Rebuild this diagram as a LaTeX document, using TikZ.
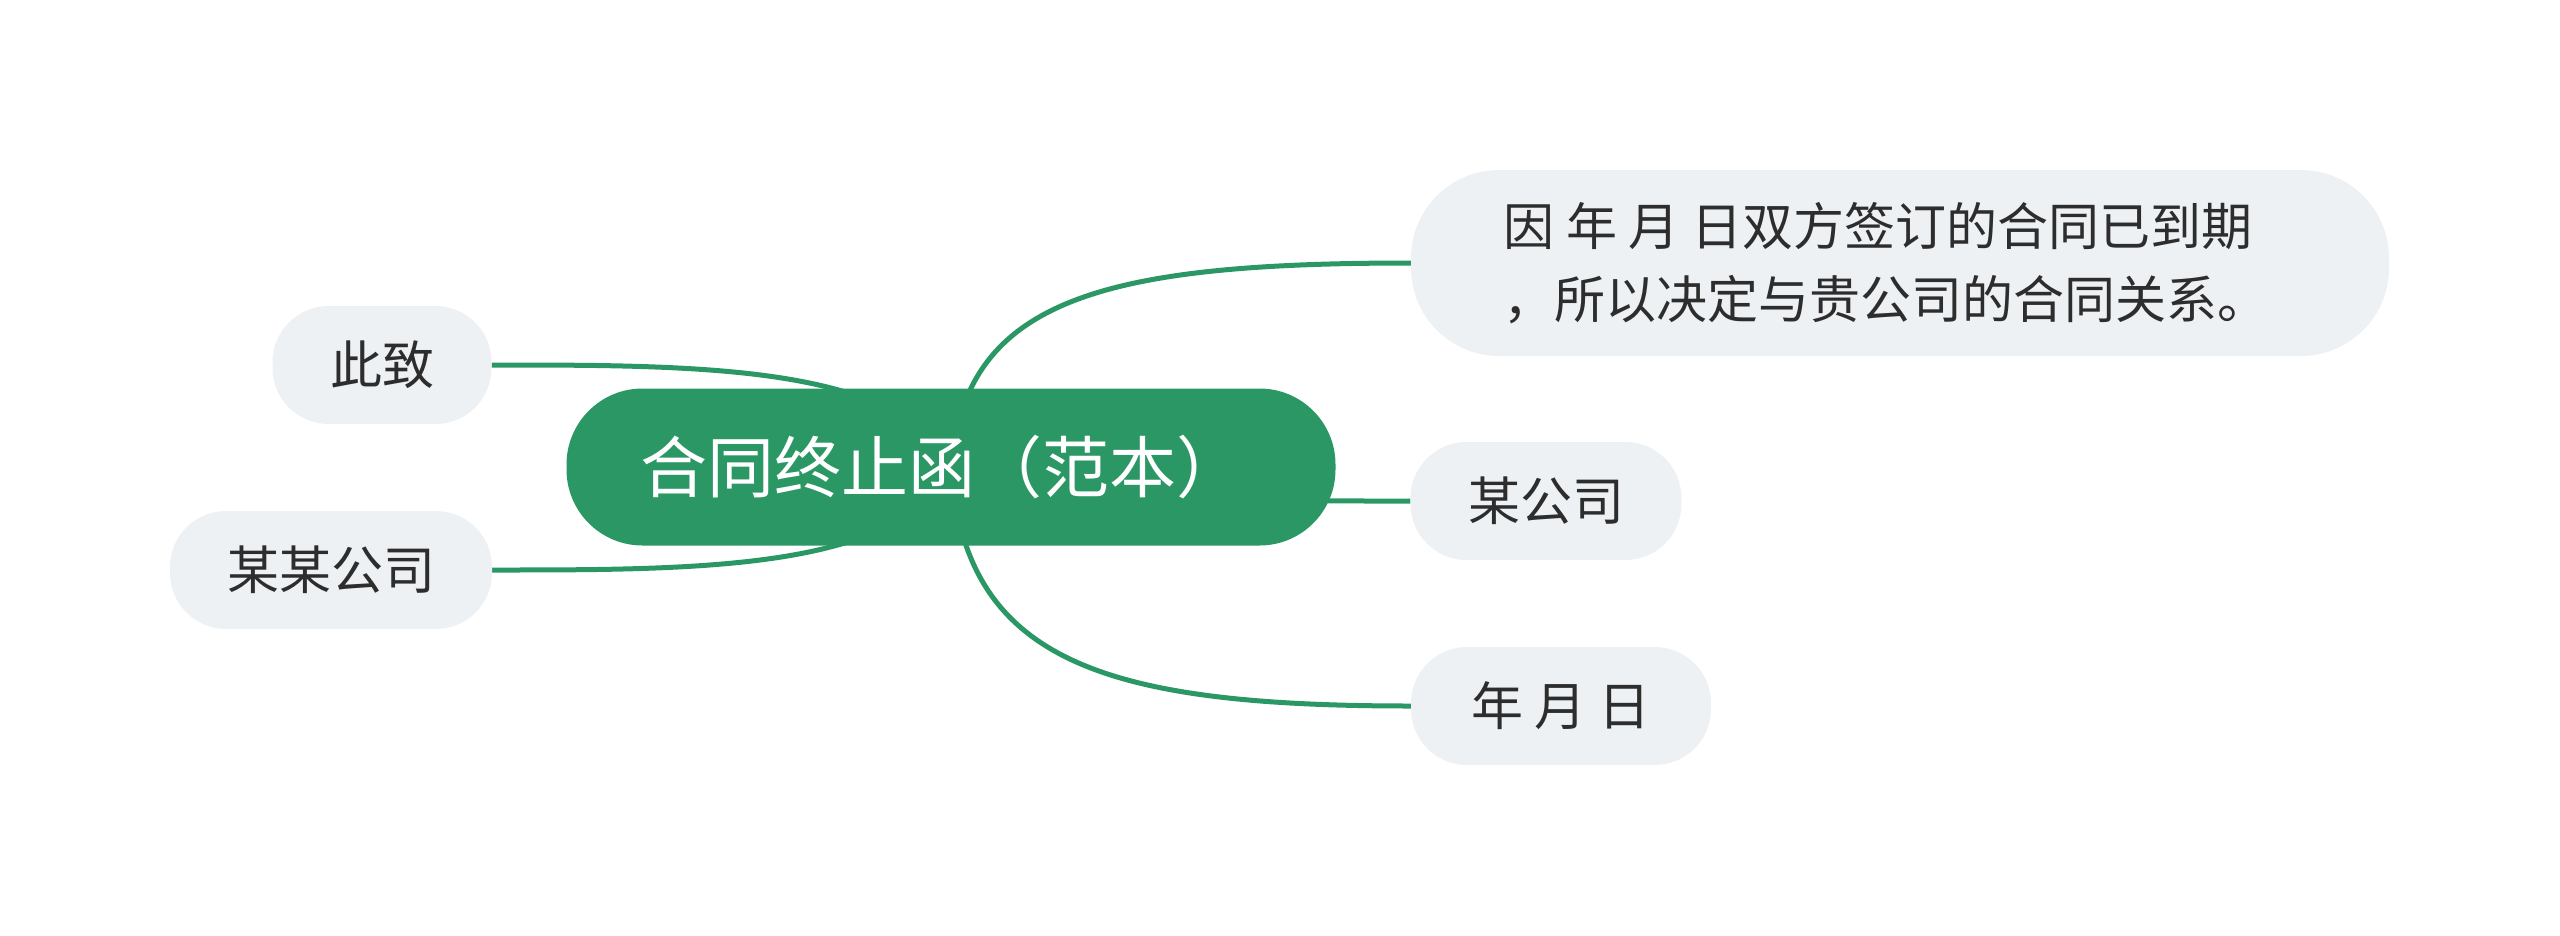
\documentclass[tikz,border=0pt]{standalone}
\usepackage{fontspec}
\newfontfamily\cjk{Noto Sans CJK SC}
\usetikzlibrary{backgrounds}
\definecolor{mapgreen}{RGB}{42,151,101}
\definecolor{topicgray}{RGB}{238,241,244}
\definecolor{topictext}{RGB}{45,45,45}

\begin{document}
\begin{tikzpicture}[x=1pt,y=-1pt,
		root/.style={fill=mapgreen, text=white, rounded corners=76pt, minimum width=769pt, minimum height=157pt, inner sep=0pt, font=\cjk\fontsize{67}{80}\selectfont},
		topic/.style={fill=topicgray, text=topictext, rounded corners=56pt, minimum height=118pt, inner sep=0pt, font=\cjk\fontsize{52}{62}\selectfont},
		link/.style={draw=mapgreen, line width=5pt}]
			\useasboundingbox (0,0) rectangle (2560,935);

			% central topic
			\node[root] (root) at (951,467) {合同终止函（范本）\hspace*{18pt}};

			% right side
			\node[topic, minimum width=978pt, minimum height=186pt, rounded corners=88pt, align=left, font=\cjk\fontsize{51}{73}\selectfont] (expiry) at (1900,263) {因 年 月 日双方签订的合同已到期\hspace*{44pt}\\，所以决定与贵公司的合同关系。};
			\node[topic, minimum width=271pt] (company) at (1546,501) {某公司};
			\node[topic, minimum width=300pt] (date) at (1561,706) {年 月 日};

			% left side
			\node[topic, minimum width=219pt] (regards) at (382,365) {此致};
			\node[topic, minimum width=322pt] (sender) at (331,570) {某某公司};

			% links
			\begin{pgfonlayer}{background}
			\draw[link] (root.center) .. controls +(14,-167) and +(-311,0) .. (expiry.west);
			\draw[link] (root.center) .. controls +(60,34) and +(-250,0) .. (company.west);
			\draw[link] (root.center) .. controls +(14,193) and +(-311,0) .. (date.west);
			\draw[link] (root.center) .. controls +(-51,-102) and +(208,0) .. (regards.east);
			\draw[link] (root.center) .. controls +(-51,103) and +(208,0) .. (sender.east);
			\end{pgfonlayer}
		\end{tikzpicture}
\end{document}
